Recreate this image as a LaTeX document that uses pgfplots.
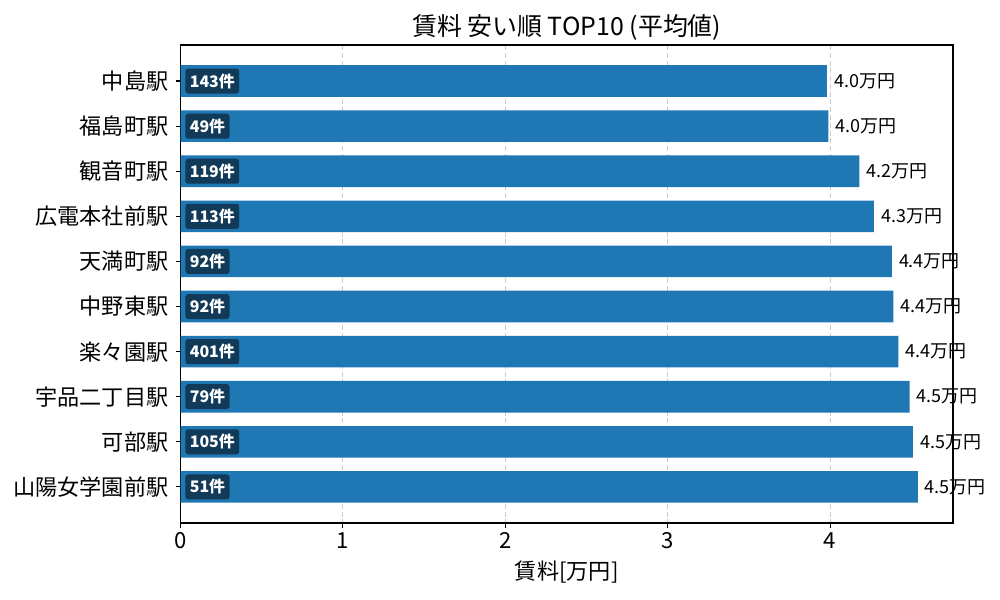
\documentclass[border=0pt]{standalone}
\usepackage{pgfplots}
\pgfplotsset{compat=1.18}
\usepackage{pgfplotstable}
\usepackage{fontspec}
\setmainfont{Noto Sans CJK JP}
\definecolor{barblue}{RGB}{31,119,180}
\definecolor{badge}{RGB}{17,58,89}

% rank  value  count
\pgfplotstableread{
y  v     n
0  3.98  143
1  3.99  49
2  4.18  119
3  4.27  113
4  4.38  92
5  4.39  92
6  4.42  401
7  4.49  79
8  4.51  105
9  4.54  51
}\rentdata

\begin{document}
\begin{tikzpicture}
\path[use as bounding box] (0,0) rectangle (720bp,432bp);
\begin{axis}[
  at={(129.96bp,55.44bp)}, anchor=south west,
  scale only axis,
  width=556.2bp, height=344.2bp,
  xmin=0, xmax=4.757,
  ymin=-0.8, ymax=9.8,
  y dir=reverse,
  xtick={0,1,2,3,4},
  ytick={0,...,9},
  yticklabels={中島駅,福島町駅,観音町駅,広電本社前駅,天満町駅,中野東駅,楽々園駅,宇品二丁目駅,可部駅,山陽女学園前駅},
  /pgf/number format/assume math mode=true,
  tick align=outside,
  major tick length=3.5bp,
  tick style={black, line width=0.8bp},
  axis line style={black, line width=0.8bp},
  xtick pos=bottom, ytick pos=left,
  xmajorgrids=true,
  major grid style={gray!40, line width=0.6bp, dash pattern=on 3.6bp off 2bp},
  ticklabel style={font=\fontsize{16}{19}\selectfont},
  yticklabel style={anchor=east, inner sep=0pt, xshift=-5bp},
  xticklabel style={anchor=base, inner sep=0pt, yshift=-15bp},
  every axis title shift=0pt,
  title={賃料 安い順 TOP10 (平均値)},
  title style={at={(0.5,1)}, anchor=base, yshift=7bp, font=\fontsize{18}{21}\selectfont},
  xlabel={賃料[万円]},
  xlabel style={at={(axis description cs:0.5,0)}, anchor=base, yshift=-41bp, font=\fontsize{16}{19}\selectfont},
]
\addplot[xbar, bar width=0.7, fill=barblue, draw=none,
  point meta=x,
  nodes near coords={\pgfmathprintnumber[fixed,fixed zerofill,precision=1]{\pgfplotspointmeta}万円},
  nodes near coords style={anchor=west, inner sep=0pt, xshift=5bp, black, font=\fontsize{13}{15}\selectfont},
] table[x=v, y=y] {\rentdata};
\addplot[draw=none, mark=none,
  point meta=explicit,
  nodes near coords={\pgfmathprintnumber{\pgfplotspointmeta}件},
  nodes near coords style={anchor=west, fill=badge, text=white, rounded corners=2bp,
    inner xsep=3.2bp, inner ysep=0pt, minimum height=18bp, outer sep=0pt,
    font=\bfseries\fontsize{11.5}{13}\selectfont},
] table[x expr=0.03, y=y, meta=n] {\rentdata};
\end{axis}
\end{tikzpicture}
\end{document}
